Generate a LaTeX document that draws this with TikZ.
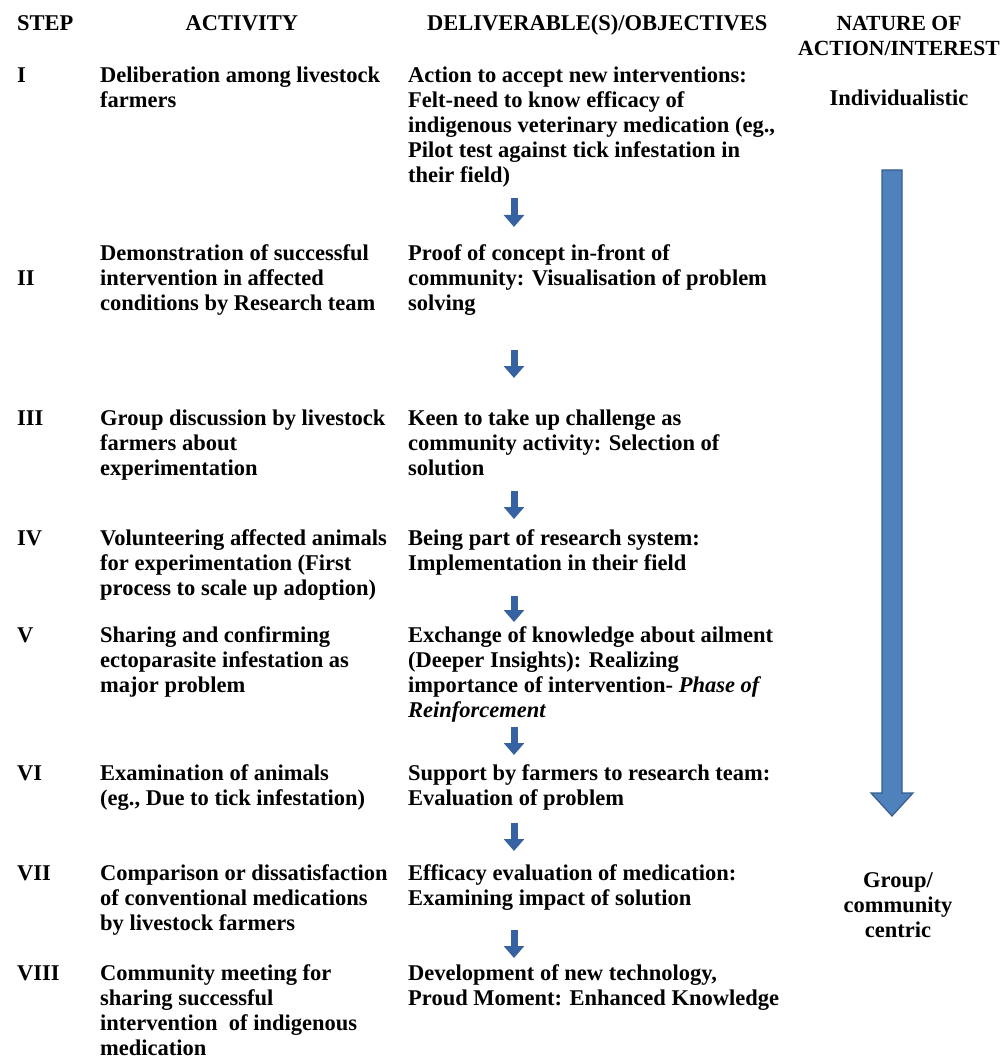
\documentclass[tikz,border=0pt]{standalone}
\usepackage{fontspec}
\setmainfont{Liberation Serif}
\usetikzlibrary{arrows.meta}

\definecolor{arrowblue}{RGB}{79,129,189}
\definecolor{arrowedge}{RGB}{56,93,138}
\definecolor{smallblue}{RGB}{54,98,162}
\newcommand\tabfont{\fontsize{22.5}{25}\selectfont\bfseries}
\newcommand\rowstrut{\rule{0pt}{18pt}}

\tikzset{
  cell/.style={anchor=north west, inner sep=0pt, align=left, font=\tabfont},
  head/.style={anchor=north, inner sep=0pt, align=center, font=\tabfont},
  flowarrow/.style={draw=smallblue, line width=7pt, -{Triangle[width=20pt,length=12pt]}},
  bigarrow/.style={fill=arrowblue, draw=arrowedge, line width=1.2pt, line join=miter},
}

\begin{document}
\begin{tikzpicture}[x=1pt, y=-1pt]
\useasboundingbox (0,0) rectangle (1003,1059);

% column heads
\node[cell] (hstep) at (17,12) {\rowstrut STEP};
\node[head] (hact) at (242,12) {\rowstrut ACTIVITY};
\node[cell] (hdel) at (427,12) {\rowstrut DELIVERABLE(S)/OBJECTIVES};
\node[head, font=\fontsize{21.6}{25}\selectfont\bfseries] (hnat) at (899,12) {\rowstrut NATURE OF\\ACTION/INTEREST};

% steps
\node[cell] (s1) at (17,64) {\rowstrut I};
\node[cell] (s2) at (17,267) {\rowstrut II};
\node[cell] (s3) at (17,407) {\rowstrut III};
\node[cell] (s4) at (17,527) {\rowstrut IV};
\node[cell] (s5) at (17,624) {\rowstrut V};
\node[cell] (s6) at (17,762) {\rowstrut VI};
\node[cell] (s7) at (17,862) {\rowstrut VII};
\node[cell] (s8) at (17,962) {\rowstrut VIII};

% activities
\node[cell] (a1) at (100,64) {\rowstrut Deliberation among livestock\\farmers};
\node[cell] (a2) at (100,242) {\rowstrut Demonstration of successful\\intervention in affected\\conditions by Research team};
\node[cell] (a3) at (100,407) {\rowstrut Group discussion by livestock\\farmers about\\experimentation};
\node[cell] (a4) at (100,527) {\rowstrut Volunteering affected animals\\for experimentation (First\\process to scale up adoption)};
\node[cell] (a5) at (100,624) {\rowstrut Sharing and confirming\\ectoparasite infestation as\\major problem};
\node[cell] (a6) at (100,762) {\rowstrut Examination of animals\\(eg., Due to tick infestation)};
\node[cell] (a7) at (100,862) {\rowstrut Comparison or dissatisfaction\\of conventional medications\\by livestock farmers};
\node[cell] (a8) at (100,962) {\rowstrut Community meeting for\\sharing successful\\intervention\ \ of indigenous\\medication};

% deliverables
\node[cell] (d1) at (408,64) {\rowstrut Action to accept new interventions:\\Felt-need to know efficacy of\\indigenous veterinary medication (eg.,\\Pilot test against tick infestation in\\their field)};
\node[cell] (d2) at (408,242) {\rowstrut Proof of concept in-front of\\community: Visualisation of problem\\solving};
\node[cell] (d3) at (408,407) {\rowstrut Keen to take up challenge as\\community activity: Selection of\\solution};
\node[cell] (d4) at (408,527) {\rowstrut Being part of research system:\\Implementation in their field};
\node[cell] (d5) at (408,624) {\rowstrut Exchange of knowledge about ailment\\(Deeper Insights): Realizing\\importance of intervention- \textit{Phase of}\\\textit{Reinforcement}};
\node[cell] (d6) at (408,762) {\rowstrut Support by farmers to research team:\\Evaluation of problem};
\node[cell] (d7) at (408,862) {\rowstrut Efficacy evaluation of medication:\\Examining impact of solution};
\node[cell] (d8) at (408,962) {\rowstrut Development of new technology,\\Proud Moment: Enhanced Knowledge};

% nature of action
\node[head] (indiv) at (899,87) {\rowstrut Individualistic};
\node[head] (group) at (898,869) {\rowstrut Group/\\community\\centric};

% small arrows between deliverables
\foreach \ya/\yb in {198/227, 350/378, 491/519, 596/622, 727/755, 823/851, 930/958}
  \draw[flowarrow] (514,\ya) -- (514,\yb);

% big arrow
\draw[bigarrow] (882,170) -- (902,170) -- (902,793) -- (913,793) -- (892,816)
  -- (871,793) -- (882,793) -- cycle;
\end{tikzpicture}
\end{document}
